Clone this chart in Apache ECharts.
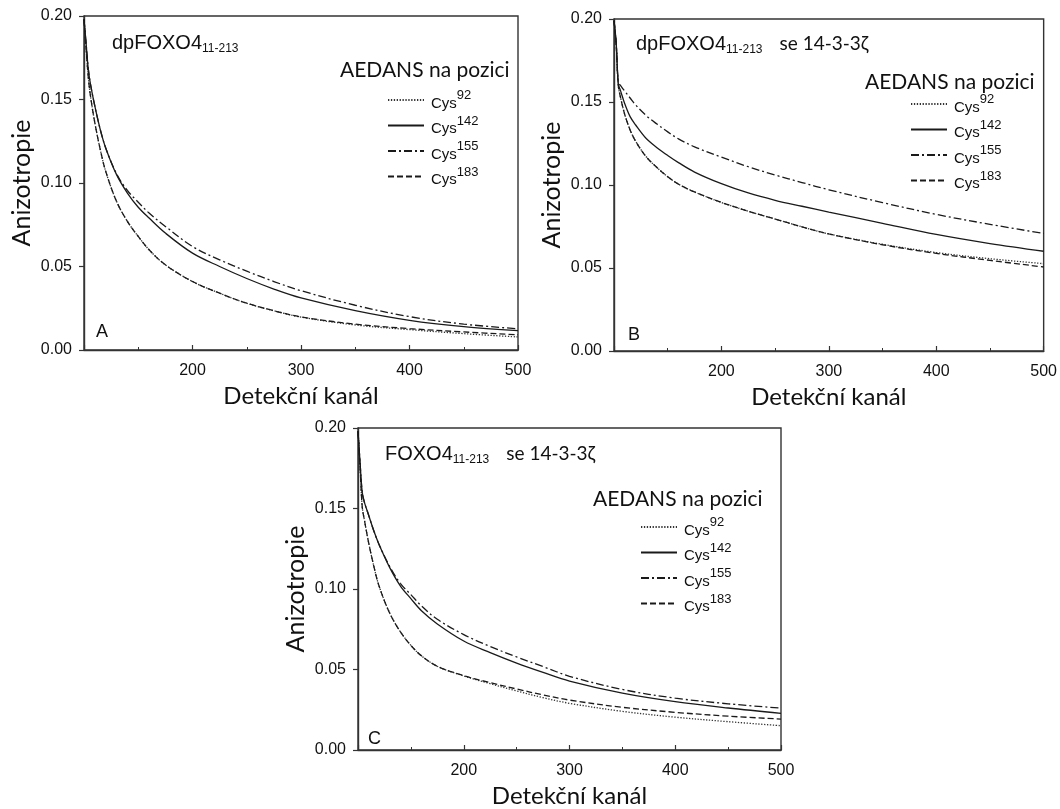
<!DOCTYPE html>
<html>
<head>
<meta charset="utf-8">
<script src="https://cdn.jsdelivr.net/npm/echarts@6/dist/echarts.min.js"></script>
<style>
  html, body { margin: 0; padding: 0; background: #fff; }
  #anisotropy { width: 1060px; height: 809px; }
</style>
</head>
<body>
<div id="anisotropy"></div>
<script>
  const channels = [100, 102, 104, 106, 110, 115, 120, 130, 140, 150, 160, 175, 200, 225, 250, 275, 300, 350, 400, 450, 500];
  const cysNames = ['Cys92', 'Cys142', 'Cys155', 'Cys183'];

  // A: dpFOXO4 11-213
  const a92  = [0.198, 0.180, 0.163, 0.152, 0.136, 0.120, 0.107, 0.089, 0.077, 0.068, 0.060, 0.051, 0.041, 0.034, 0.028, 0.0235, 0.0197, 0.0150, 0.0122, 0.0098, 0.0078];
  const a142 = [0.198, 0.183, 0.168, 0.159, 0.146, 0.132, 0.121, 0.105, 0.094, 0.0855, 0.079, 0.070, 0.058, 0.050, 0.0428, 0.0365, 0.0312, 0.0236, 0.0178, 0.0140, 0.0116];
  const a155 = [0.198, 0.183, 0.168, 0.159, 0.146, 0.132, 0.121, 0.1055, 0.0955, 0.0885, 0.082, 0.074, 0.062, 0.054, 0.0472, 0.0410, 0.0355, 0.0268, 0.0200, 0.0155, 0.0127];
  const a183 = [0.198, 0.180, 0.163, 0.152, 0.136, 0.120, 0.107, 0.089, 0.077, 0.068, 0.060, 0.051, 0.041, 0.034, 0.028, 0.0235, 0.0198, 0.0155, 0.0128, 0.0108, 0.0091];

  // B: dpFOXO4 11-213 se 14-3-3zeta
  const b92  = [0.199, 0.185, 0.160, 0.153, 0.1425, 0.1332, 0.1265, 0.1170, 0.1105, 0.1050, 0.1005, 0.0958, 0.0895, 0.0842, 0.0795, 0.0748, 0.0705, 0.0643, 0.0593, 0.0556, 0.0526];
  const b142 = [0.199, 0.186, 0.161, 0.157, 0.149, 0.1412, 0.1363, 0.1280, 0.1225, 0.1178, 0.1135, 0.1078, 0.1008, 0.0952, 0.0908, 0.0872, 0.0837, 0.0769, 0.0702, 0.0647, 0.0601];
  const b155 = [0.199, 0.186, 0.1617, 0.160, 0.1565, 0.1524, 0.1483, 0.1418, 0.1367, 0.1320, 0.1278, 0.1230, 0.1168, 0.1110, 0.1060, 0.1015, 0.0971, 0.0894, 0.0823, 0.0763, 0.0708];
  const b183 = [0.199, 0.185, 0.160, 0.153, 0.1425, 0.1332, 0.1265, 0.1170, 0.1105, 0.1050, 0.1005, 0.0958, 0.0895, 0.0842, 0.0795, 0.0748, 0.0705, 0.0640, 0.0588, 0.0546, 0.0506];

  // C: FOXO4 11-213 se 14-3-3zeta
  const c92  = [0.198, 0.175, 0.151, 0.143, 0.129, 0.114, 0.1017, 0.085, 0.0735, 0.065, 0.0585, 0.052, 0.0460, 0.0412, 0.0367, 0.0325, 0.0290, 0.0240, 0.0204, 0.0176, 0.0151];
  const c142 = [0.198, 0.178, 0.160, 0.154, 0.146, 0.136, 0.1275, 0.1133, 0.1020, 0.0940, 0.0865, 0.0783, 0.0677, 0.0605, 0.0540, 0.0482, 0.0428, 0.0353, 0.0300, 0.0261, 0.0228];
  const c155 = [0.198, 0.178, 0.160, 0.154, 0.146, 0.136, 0.1275, 0.1140, 0.1035, 0.0965, 0.0895, 0.0812, 0.0717, 0.0643, 0.0578, 0.0518, 0.0458, 0.0376, 0.0322, 0.0287, 0.0260];
  const c183 = [0.198, 0.175, 0.151, 0.143, 0.129, 0.114, 0.1017, 0.085, 0.0735, 0.065, 0.0585, 0.052, 0.0462, 0.0418, 0.0379, 0.0342, 0.0310, 0.0265, 0.0234, 0.0210, 0.0192];

  const panelData = [[a92, a142, a155, a183], [b92, b142, b155, b183], [c92, c142, c155, c183]];

  const sans = '"Liberation Sans", Arial, sans-serif';
  const calibriLike = 'Lato, "Open Sans", sans-serif';
  const lineTypes = {Cys92: [1.3, 1.6], Cys142: 'solid', Cys155: [8, 3, 2, 3], Cys183: [6, 3]};

  // layout of the three panels
  const panels = [
    {grid: {left: 84, top: 16, width: 434, height: 334}, title: '{m|dpFOXO4}{s|11-213}', titlePos: [112, 33],
     head: [340, 60], letter: 'A', letterPos: [96, 323], legend: [387, 89]},
    {grid: {left: 614, top: 19, width: 433, height: 332}, title: '{m|dpFOXO4}{s|11-213}{t|se 14-3-3ζ}', titlePos: [636, 34],
     head: [865, 72], letter: 'B', letterPos: [628, 326], legend: [910, 93]},
    {grid: {left: 358, top: 428, width: 423, height: 326}, title: '{m|FOXO4}{s|11-213}{t|se 14-3-3ζ}', titlePos: [385, 444],
     head: [593, 489], letter: 'C', letterPos: [368, 730], legend: [640, 516]}
  ];

  const titleRich = {
    m: {fontFamily: sans, fontSize: 20, fontWeight: 'normal', color: '#111', padding: [0, 0, 2, 0], verticalAlign: 'top'},
    s: {fontFamily: sans, fontSize: 12, fontWeight: 'normal', color: '#111', verticalAlign: 'bottom'},
    t: {fontFamily: calibriLike, fontSize: 19, fontWeight: 'normal', color: '#111', verticalAlign: 'top', padding: [0, 0, 0, 17]}
  };

  const titles = [];
  panels.forEach(p => {
    titles.push({text: p.title, left: p.titlePos[0], top: p.titlePos[1], padding: 0,
      textStyle: {fontWeight: 'normal', rich: titleRich}});
    titles.push({text: 'AEDANS na pozici', left: p.head[0], top: p.head[1], padding: 0,
      textStyle: {fontFamily: calibriLike, fontSize: 21, fontWeight: 'normal', color: '#111'}});
    titles.push({text: p.letter, left: p.letterPos[0], top: p.letterPos[1], padding: 0,
      textStyle: {fontFamily: sans, fontSize: 18, fontWeight: 'normal', color: '#111'}});
  });

  const axisLine = {lineStyle: {color: '#333', width: 1.4}};

  const option = {
    backgroundColor: '#fff',
    animation: false,
    title: titles,
    grid: panels.map(p => Object.assign({show: true, borderColor: '#333', borderWidth: 1.4, backgroundColor: 'transparent'}, p.grid)),
    legend: panels.map(p => ({
      orient: 'vertical',
      left: p.legend[0],
      top: p.legend[1],
      padding: 0,
      itemWidth: 36,
      itemHeight: 10,
      itemGap: 3.5,
      selectedMode: false,
      data: cysNames,
      itemStyle: {opacity: 0},
      formatter: n => '{c|Cys}{s|' + n.slice(3) + '}',
      textStyle: {
        rich: {
          c: {fontFamily: sans, fontSize: 15, color: '#111', padding: [7, 0, 0, 2], verticalAlign: 'bottom'},
          s: {fontFamily: sans, fontSize: 13, color: '#111', verticalAlign: 'top'}
        }
      }
    })),
    xAxis: panels.map((p, i) => ({
      type: 'value',
      gridIndex: i,
      min: 100,
      max: 500,
      interval: 100,
      name: 'Detekční kanál',
      nameLocation: 'middle',
      nameGap: 34,
      nameTextStyle: {fontFamily: calibriLike, fontSize: 24, color: '#111'},
      axisLine: axisLine,
      axisTick: {inside: true, length: 5, lineStyle: {color: '#333', width: 1.2}},
      minorTick: {show: true, splitNumber: 2, length: 3, lineStyle: {color: '#333', width: 1}},
      splitLine: {show: false},
      axisLabel: {showMinLabel: false, margin: 13, fontFamily: sans, fontSize: 16, color: '#111'}
    })),
    yAxis: panels.map((p, i) => ({
      type: 'value',
      gridIndex: i,
      min: 0,
      max: 0.2,
      interval: 0.05,
      name: 'Anizotropie',
      nameLocation: 'middle',
      nameGap: 50,
      nameTextStyle: {fontFamily: calibriLike, fontSize: 25, color: '#111'},
      axisLine: axisLine,
      axisTick: {inside: false, length: 5, lineStyle: {color: '#333', width: 1.2}},
      splitLine: {show: false},
      axisLabel: {margin: 12, fontFamily: sans, fontSize: 16, color: '#111', formatter: v => v.toFixed(2)}
    })),
    series: []
  };

  panelData.forEach((sets, pi) => {
    sets.forEach((vals, si) => {
      const name = cysNames[si];
      const color = name === 'Cys92' ? '#333' : '#1a1a1a';
      option.series.push({
        type: 'line',
        name: name,
        xAxisIndex: pi,
        yAxisIndex: pi,
        symbol: 'none',
        smooth: 0.35,
        itemStyle: {color: color},
        lineStyle: {color: color, width: 1.3, type: lineTypes[name]},
        data: channels.map((x, k) => [x, vals[k]])
      });
    });
  });

  const anisotropyChart = echarts.init(document.getElementById('anisotropy'));
  anisotropyChart.setOption(option);
  window.addEventListener('resize', function () {
    anisotropyChart.resize();
  });
</script>
</body>
</html>
